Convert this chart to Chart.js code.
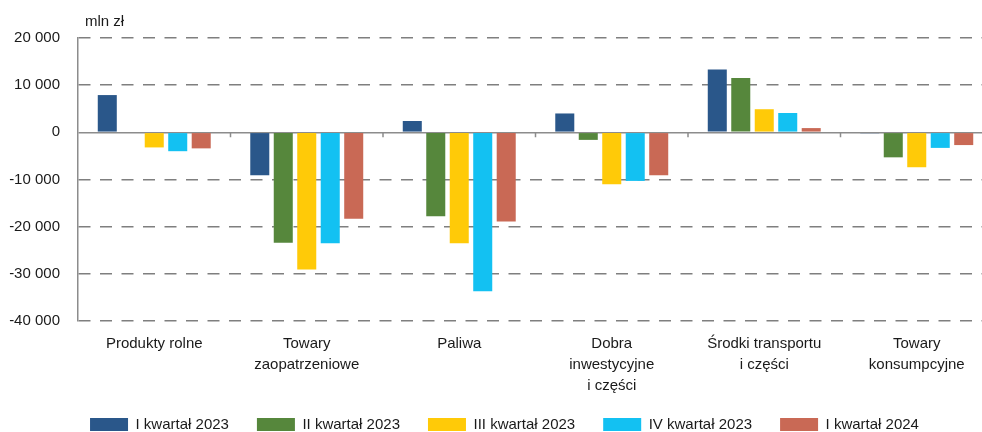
<!DOCTYPE html>
<html lang="pl">
<head>
<meta charset="utf-8">
<title>Saldo obrotów</title>
<script src="https://cdn.jsdelivr.net/npm/chart.js@4.4.1/dist/chart.umd.min.js"></script>
<style>
  html, body { margin: 0; padding: 0; background: #fff; overflow: hidden; }
  #wrap { width: 993px; height: 432px; }
</style>
</head>
<body>
<div id="wrap"><canvas id="chart" width="993" height="432"></canvas></div>
<script>
const FONT = "'Liberation Sans', Arial, sans-serif";
const TEXT = "#1a1a1a";

const categories = [
  "Produkty rolne",
  ["Towary", "zaopatrzeniowe"],
  "Paliwa",
  ["Dobra", "inwestycyjne", "i części"],
  ["Środki transportu", "i części"],
  ["Towary", "konsumpcyjne"],
];
const seriesNames = ["I kwartał 2023", "II kwartał 2023", "III kwartał 2023", "IV kwartał 2023", "I kwartał 2024"];
const seriesColors = ["#2a578a", "#56873c", "#ffca08", "#13c1f2", "#c96955"];

const q1_2023 = [7900, -9100, 2400, 4000, 13300, -200];
const q2_2023 = [0, -23400, -17800, -1600, 11500, -5300];
const q3_2023 = [-3200, -29100, -23500, -11000, 4900, -7400];
const q4_2023 = [-4000, -23500, -33700, -10300, 4100, -3300];
const q1_2024 = [-3400, -18300, -18900, -9100, 900, -2700];

const yMin = -40000, yMax = 20000, yStep = 10000;
const unitLabel = "mln zł";

function fmt(v) {
  const s = String(Math.abs(v)).replace(/\B(?=(\d{3})+(?!\d))/g, " ");
  return (v < 0 ? "-" : "") + s;
}

// legend sits a bit higher and right of where the layout puts it
const legendNudge = {
  id: "legendNudge",
  beforeDraw(chart) {
    const lg = chart.legend;
    const w = lg.right - lg.left;
    lg.left = 8;
    lg.right = 8 + w;
    lg.top = chart.height - 43;
  },
};

// small ticks on the zero line between categories + unit label
const extras = {
  id: "extras",
  afterDraw(chart) {
    const { ctx, scales: { x, y }, chartArea } = chart;
    const y0 = y.getPixelForValue(0);
    ctx.save();
    ctx.strokeStyle = "#8c8c8c";
    ctx.lineWidth = 1.5;
    ctx.beginPath();
    for (let i = 1; i < categories.length; i++) {
      const bx = (x.getPixelForValue(i - 1) + x.getPixelForValue(i)) / 2;
      ctx.moveTo(bx, y0);
      ctx.lineTo(bx, y0 + 5);
    }
    ctx.stroke();
    ctx.fillStyle = TEXT;
    ctx.font = "15px " + FONT;
    ctx.textBaseline = "middle";
    ctx.fillText(unitLabel, chartArea.left + 7, chartArea.top - 16);
    ctx.restore();
  },
};

const data = [q1_2023, q2_2023, q3_2023, q4_2023, q1_2024];

new Chart(document.getElementById("chart"), {
  type: "bar",
  data: {
    labels: categories,
    datasets: data.map((d, i) => ({
      label: seriesNames[i],
      data: d,
      backgroundColor: seriesColors[i],
      borderWidth: 0,
      categoryPercentage: 0.77,
      barPercentage: 0.81,
    })),
  },
  options: {
    responsive: false,
    animation: false,
    layout: { padding: { top: 38, right: 0, left: 0, bottom: 0 } },
    plugins: {
      tooltip: { enabled: false },
      legend: {
        position: "bottom",
        maxHeight: 36,
        labels: {
          boxWidth: 38,
          boxHeight: 13,
          padding: 28,
          color: TEXT,
          font: { family: FONT, size: 15 },
        },
      },
    },
    scales: {
      x: {
        grid: { display: false, drawTicks: false },
        border: { display: false },
        ticks: {
          color: TEXT,
          padding: 12,
          maxRotation: 0,
          autoSkip: false,
          font: { family: FONT, size: 15, lineHeight: 21 / 15 },
        },
        afterFit(scale) { scale.height = 75; },
      },
      y: {
        min: yMin,
        max: yMax,
        ticks: {
          stepSize: yStep,
          color: TEXT,
          padding: 18,
          font: { family: FONT, size: 15 },
          callback: (v) => fmt(v),
        },
        grid: {
          drawTicks: false,
          color: (c) => (c.tick && c.tick.value === 0 ? "#8c8c8c" : "#7f7f7f"),
          lineWidth: 1.5,
        },
        border: {
          display: true,
          color: "#8c8c8c",
          width: 1.5,
          dash: (c) => (c.tick && c.tick.value !== 0 ? [12, 9.5] : []),
        },
        afterFit(scale) { scale.width = 78; },
      },
    },
  },
  plugins: [legendNudge, extras],
});
</script>
</body>
</html>
